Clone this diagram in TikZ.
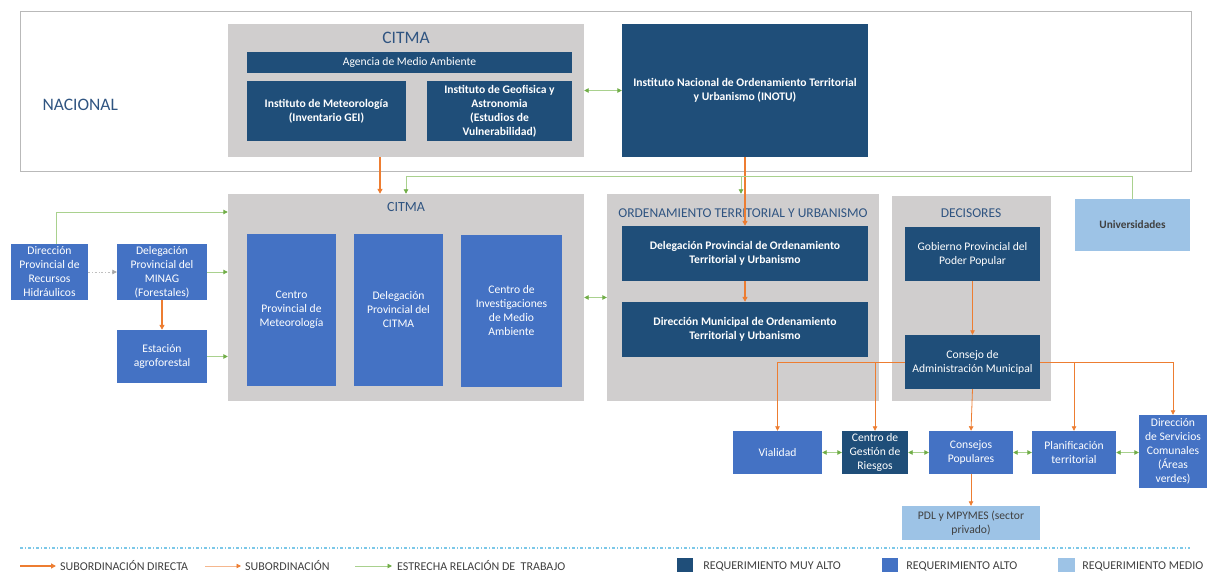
\documentclass[tikz,border=0pt]{standalone}
\usepackage{fontspec}
\setmainfont{Carlito}
\usetikzlibrary{arrows.meta,positioning}

\definecolor{azulosc}{HTML}{1F4E79}
\definecolor{azulmed}{HTML}{4472C4}
\definecolor{azulcla}{HTML}{9DC3E6}
\definecolor{grisfondo}{HTML}{D0CECE}
\definecolor{naranja}{HTML}{ED7D31}
\definecolor{verde}{HTML}{70AD47}
\definecolor{verdecla}{HTML}{A9D18E}
\definecolor{txtitulo}{HTML}{2F5481}
\definecolor{txgris}{HTML}{404040}
\definecolor{separador}{HTML}{7CC8E8}

\begin{document}
\begin{tikzpicture}[x=1pt,y=-1pt,
	tam/.style 2 args={minimum width=#1pt, minimum height=#2pt},
	caja/.style={rectangle, inner sep=1pt, align=center, text=white, font=\fontsize{11.6}{14}\selectfont},
	negrita/.style={font=\fontsize{11.6}{14}\selectfont\bfseries},
	muyalto/.style={caja, fill=azulosc},
	alto/.style={caja, fill=azulmed},
	medio/.style={caja, fill=azulcla, text=txgris},
	grupo/.style={rectangle, fill=grisfondo, inner sep=0pt},
	titulo/.style={text=txtitulo, font=\fontsize{14}{16}\selectfont},
	leyenda/.style={text=txgris, font=\fontsize{12}{14}\selectfont, inner sep=0pt, anchor=west},
	subdir/.style={draw=naranja, line width=1.8pt, -{Triangle[length=5pt,width=5pt]}},
	sub/.style={draw=naranja, line width=0.8pt, -{Triangle[length=4.5pt,width=4.5pt,color=naranja,fill=naranja]}},
	rel/.style={draw=verdecla, line width=0.9pt, -{Triangle[length=4.5pt,width=4.5pt,color=verde,fill=verde]}},
	relrel/.style={rel, {Triangle[length=4.5pt,width=4.5pt,color=verde,fill=verde]}-{Triangle[length=4.5pt,width=4.5pt,color=verde,fill=verde]}}
	]
	\useasboundingbox (0,0) rectangle (1208,572);
	
	% Nivel nacional
	\node[draw=gray!55, line width=1pt, tam={1171}{160}] (nacional) at (605.5,92) {};
	\node[titulo, font=\fontsize{17.5}{20}\selectfont, anchor=west] (tnacional) at (39,105) {NACIONAL};
	\node[grupo, tam={356}{133}] (citmaN) at (406,90.5) {};							% CITMA nacional
	\node[titulo, font=\fontsize{17.5}{20}\selectfont] (tcitmaN) at (406,38) {CITMA};
	\node[muyalto, tam={325}{21}] (agencia) at (409.5,62.5) {Agencia de Medio Ambiente};
	\node[muyalto, negrita, tam={159}{60}] (imet) at (326.5,111) {Instituto de Meteorología\\(Inventario GEI)};
	\node[muyalto, negrita, tam={145}{60}] (igeo) at (499.5,111) {Instituto de Geofisica y\\Astronomia\\(Estudios de\\Vulnerabilidad)};
	\node[muyalto, negrita, tam={246}{133}] (inotu) at (745,90.5) {Instituto Nacional de Ordenamiento Territorial\\y Urbanismo (INOTU)};
	
	% CITMA provincial
	\node[grupo, tam={356}{207}] (citmaP) at (406,297.5) {};
	\node[titulo] (tcitmaP) at (406,207) {CITMA};
	\node[alto, tam={89}{152}] (cpm) at (291.5,310) {Centro\\Provincial de\\Meteorología};
	\node[alto, tam={89}{152}] (dpc) at (398.5,310) {Delegación\\Provincial del\\CITMA};
	\node[alto, tam={101}{152}] (cima) at (511.5,311) {Centro de\\Investigaciones\\de Medio\\Ambiente};
	
	% Entidades a la izquierda
	\node[alto, tam={77}{56}] (dprh) at (49.5,272) {Dirección\\Provincial de\\Recursos\\Hidráulicos};
	\node[alto, tam={90}{56}] (minag) at (162,272) {Delegación\\Provincial del\\MINAG\\(Forestales)};
	\node[alto, tam={90}{53}] (estacion) at (162,356.5) {Estación\\agroforestal};
	
	% Ordenamiento territorial
	\node[grupo, tam={272}{207}] (otu) at (743,297.5) {};
	\node[titulo, font=\fontsize{13.5}{16}\selectfont] (totu) at (743,213) {ORDENAMIENTO TERRITORIAL Y URBANISMO};
	\node[muyalto, negrita, tam={246}{55}] (dpot) at (745,253.5) {Delegación Provincial de Ordenamiento\\Territorial y Urbanismo};
	\node[muyalto, negrita, tam={246}{55}] (dmot) at (745,329.5) {Dirección Municipal de Ordenamiento\\Territorial y Urbanismo};
	
	% Decisores
	\node[grupo, tam={159}{205}] (decisores) at (971.5,298.5) {};
	\node[titulo, font=\fontsize{13.5}{16}\selectfont] (tdecisores) at (971,213) {DECISORES};
	\node[muyalto, tam={135}{54}] (gobierno) at (972.5,254) {Gobierno Provincial del\\Poder Popular};
	\node[muyalto, tam={135}{54}] (cam) at (972.5,362) {Consejo de\\Administración Municipal};
	\node[medio, font=\fontsize{11.3}{14}\selectfont\bfseries, tam={115}{52}] (univ) at (1132.5,225) {Universidades};
	
	% Nivel municipal
	\node[alto, tam={89}{43}] (vialidad) at (777.5,452.5) {Vialidad};
	\node[muyalto, tam={66}{43}] (cgr) at (875,452.5) {Centro de\\Gestión de\\Riesgos};
	\node[alto, tam={84}{43}] (cpop) at (971,452.5) {Consejos\\Populares};
	\node[alto, tam={84}{43}] (plan) at (1074,452.5) {Planificación\\territorial};
	\node[alto, tam={68}{73}] (dsc) at (1173,451.5) {Dirección\\de Servicios\\Comunales\\(Áreas\\verdes)};
	\node[medio, tam={138}{34}] (pdl) at (971,523) {PDL y MPYMES (sector\\privado)};
	
	% Subordinación
	\draw[subdir] ([xshift=-26pt]citmaN.south) -- ([xshift=-26pt]citmaP.north);
	\draw[subdir] (inotu.south) -- (dpot.north);
	\draw[subdir] (dpot.south) -- (dmot.north);
	\draw[subdir] (minag.south) -- (estacion.north);
	\draw[sub] (gobierno.south) -- (cam.north);
	\draw[sub] (cam.west) -| (vialidad.north);
	\draw[sub] (cgr.north |- cam.west) -- (cgr.north);
	\draw[sub] (cam.south) -- (cpop.north);
	\draw[sub] (plan.north |- cam.east) -- (plan.north);
	\draw[sub] (cam.east) -| (dsc.north);
	\draw[sub] (cpop.south) -- (pdl.north);
	
	% Relaciones de trabajo
	\coordinate (ramal) at (741,177);
	\draw[relrel] (citmaN.east) -- (inotu.west);
	\draw[rel] (univ.north) -- ++(0,-22) -| (citmaP.north);
	\draw[rel] (ramal) -- (ramal |- otu.north);
	\draw[rel] ([xshift=6.5pt]dprh.north) |- (citmaP.west |- 0,212);
	\draw[draw=gray!50, line width=0.8pt, dash pattern=on 2pt off 2pt on 0.5pt off 2pt, -{Triangle[length=4.5pt,width=4.5pt,color=gray!70,fill=gray!70]}] (dprh.east) -- (minag.west);
	\draw[rel] (minag.east) -- (minag.east -| citmaP.west);
	\draw[rel] (estacion.east) -- (estacion.east -| citmaP.west);
	\draw[relrel] (citmaP.east) -- (otu.west);
	\draw[relrel] (vialidad.east) -- (cgr.west);
	\draw[relrel] (cgr.east) -- (cpop.west);
	\draw[relrel] (cpop.east) -- (plan.west);
	\draw[relrel] (plan.east) -- (plan.east -| dsc.west);
	
	% Leyenda
	\draw[separador, line width=1.2pt, dash pattern=on 3pt off 2pt on 1pt off 2pt] (20,548) -- (1190,548);
	\node[leyenda] (lsubdir) at (60,566) {SUBORDINACIÓN DIRECTA};
	\node[leyenda] (lsub) at (245,566) {SUBORDINACIÓN};
	\node[leyenda] (lrel) at (397,566) {ESTRECHA RELACIÓN DE\ \ TRABAJO};
	\draw[subdir] ([xshift=-40pt]lsubdir.west) -- ([xshift=-4pt]lsubdir.west);
	\draw[sub, draw=naranja!55] ([xshift=-40pt]lsub.west) -- ([xshift=-4pt]lsub.west);
	\draw[rel] ([xshift=-42pt]lrel.west) -- ([xshift=-5pt]lrel.west);
	\node[fill=azulosc, tam={16}{16}, inner sep=0pt] (cmuy) at (685,566) {};
	\node[leyenda, right=10pt of cmuy] (lmuy) {REQUERIMIENTO MUY ALTO};
	\node[fill=azulmed, tam={16}{16}, inner sep=0pt] (calto) at (890,566) {};
	\node[leyenda, right=8pt of calto] (lalto) {REQUERIMIENTO ALTO};
	\node[fill=azulcla, tam={17}{16}, inner sep=0pt] (cmedio) at (1066.5,566) {};
	\node[leyenda, right=7pt of cmedio] (lmedio) {REQUERIMIENTO MEDIO};
\end{tikzpicture}
\end{document}
